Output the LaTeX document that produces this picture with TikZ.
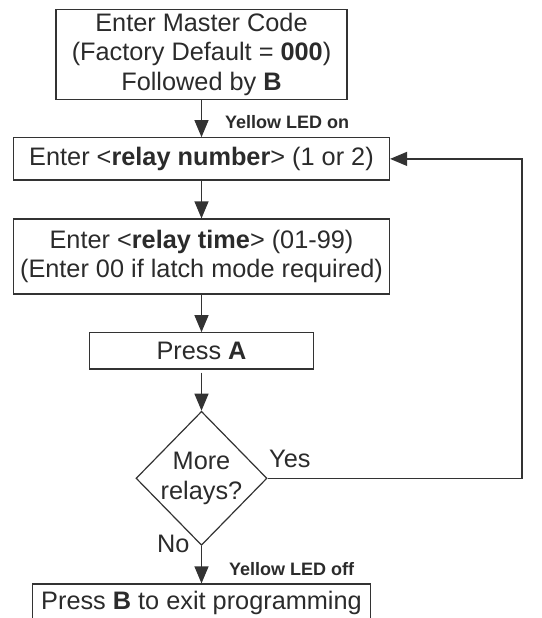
\documentclass[tikz,border=0pt]{standalone}
\usepackage{fontspec}
\setmainfont{Liberation Sans}
\usetikzlibrary{shapes.geometric,arrows.meta}
\definecolor{ink}{HTML}{2B2B2B}
\definecolor{linec}{HTML}{333333}
\begin{document}
\begin{tikzpicture}[x=1pt,y=-1pt,
  boxtext/.style={font=\fontsize{25.3}{29.5}\selectfont, text=ink},
  stepbox/.style={draw=linec, line width=1.2pt, rectangle, inner sep=0pt, align=center, boxtext},
  decision/.style={draw=linec, line width=1.2pt, diamond, inner sep=0pt},
  smalllab/.style={font=\fontsize{18}{20}\selectfont\bfseries, text=ink, inner sep=0pt, anchor=base west},
  plainlab/.style={boxtext, inner sep=0pt, anchor=base west},
  arr/.style={draw=linec, line width=1.2pt, -{Triangle[length=17pt,width=14pt]}},
  conn/.style={draw=linec, line width=1.2pt}
]
\useasboundingbox (0,0) rectangle (541,618);
\clip (0,0) rectangle (541,618);

\node[stepbox, minimum width=291pt, minimum height=90pt] (b1) at (201.5,54.3)
  {Enter Master Code\\(Factory Default = \textbf{000})\\Followed by \textbf{B}};
\node[stepbox, minimum width=376pt, minimum height=42.3pt] (b2) at (201.5,158.9)
  {Enter <\textbf{relay number}> (1 or 2)};
\node[stepbox, minimum width=376pt, minimum height=75pt] (b3) at (201.5,256.5)
  {Enter <\textbf{relay time}> (01-99)\\(Enter 00 if latch mode required)};
\node[stepbox, minimum width=224pt, minimum height=36.3pt] (pa) at (201.5,350.9)
  {Press \textbf{A}};
\node[decision, minimum width=131pt, minimum height=134pt,
  label={[boxtext, align=center, inner sep=0pt]center:More\\relays?}] (d) at (201.5,478.3) {};
\node[stepbox, minimum width=338.5pt, minimum height=38pt] (pb) at (201.5,603)
  {Press \textbf{B} to exit programming};

\node[smalllab] (l1) at (225,128.3) {Yellow LED on};
\node[smalllab] (l2) at (229,575) {Yellow LED off};
\node[plainlab] (yes) at (269,467.7) {Yes};
\node[plainlab] (no) at (157,552.7) {No};

\coordinate (loop) at (522,0);

\draw[arr] (b1) -- (b2);
\draw[arr] (b2) -- (b3);
\draw[arr] (b3) -- (pa);
\draw[arr, shorten <=3pt] (pa) -- (d);
\draw[arr] (d) -- (pb);
\draw[arr] (d.east) -- (d.east -| loop) |- (b2.east);
\end{tikzpicture}
\end{document}
